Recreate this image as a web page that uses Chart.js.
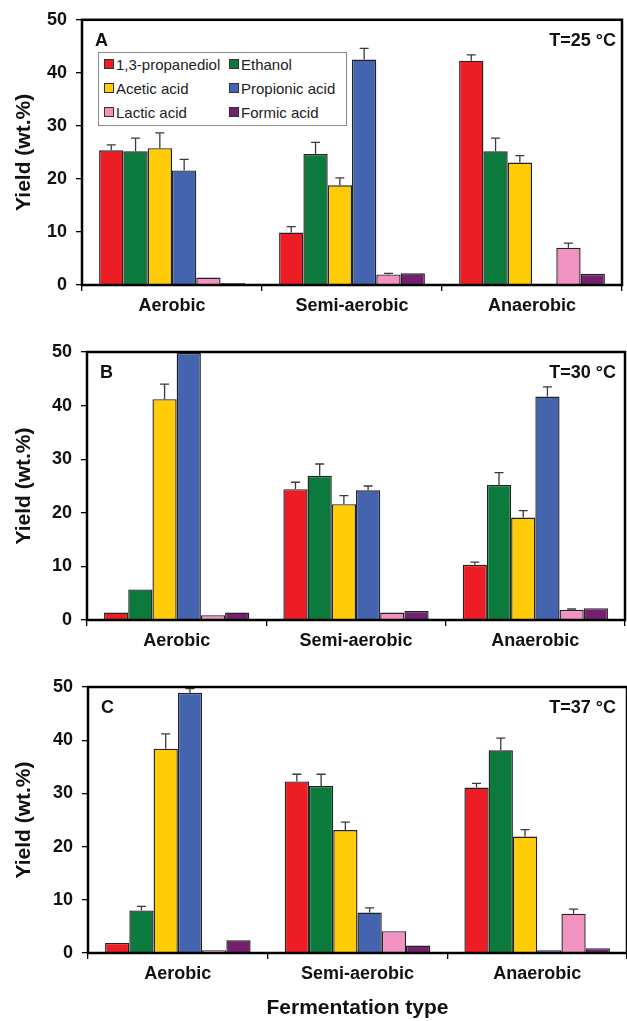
<!DOCTYPE html>
<html>
<head>
<meta charset="utf-8">
<script src="https://cdn.jsdelivr.net/npm/chart.js@4.4.1/dist/chart.umd.min.js"></script>
<style>
  html, body { margin: 0; padding: 0; background: #fff; }
  body { width: 627px; height: 1021px; position: relative; overflow: hidden; font-family: "Liberation Sans", Arial, sans-serif; }
  .panel { position: absolute; left: 0; }
  .legend { position: absolute; left: 98px; top: 52px; width: 247px; height: 72px; border: 1px solid #8a8a8a; background: #fff; }
  .li { position: absolute; font-size: 15px; color: #222; line-height: 16px; white-space: nowrap; }
  .li span.m { display: inline-block; width: 8px; height: 8px; border: 1px solid #333; margin-right: 2px; vertical-align: 1px; }
</style>
</head>
<body>
<canvas id="cA" class="panel" style="top:0px" width="627" height="330"></canvas>
<canvas id="cB" class="panel" style="top:330px" width="627" height="335"></canvas>
<canvas id="cC" class="panel" style="top:665px" width="627" height="356"></canvas>
<div class="legend" id="legend"></div>
<script>
// ---- data ----
const categories = ["Aerobic", "Semi-aerobic", "Anaerobic"];
const seriesNames = ["1,3-propanediol", "Ethanol", "Acetic acid", "Propionic acid", "Lactic acid", "Formic acid"];
const seriesColors = ["#ED1D25", "#0D7A3D", "#FFCC07", "#4564AF", "#F192C1", "#74206F"];
const yTicks = [0, 10, 20, 30, 40, 50];

// Panel A, T=25 °C (values per series across categories)
const A_propanediol = [25.4, 9.9, 42.3];
const A_ethanol     = [25.2, 24.7, 25.2];
const A_acetic      = [25.8, 18.8, 23.1];
const A_propionic   = [21.6, 42.5, 0.25];
const A_lactic      = [1.4, 2.0, 7.0];
const A_formic      = [0.4, 2.2, 2.1];
const A_err_propanediol = [1.0, 1.1, 1.1];
const A_err_ethanol     = [2.5, 2.2, 2.5];
const A_err_acetic      = [2.9, 1.4, 1.3];
const A_err_propionic   = [2.1, 2.1, 0];
const A_err_lactic      = [0, 0.2, 0.9];
const A_err_formic      = [0, 0, 0];

// Panel B, T=30 °C
const B_propanediol = [1.4, 24.4, 10.3];
const B_ethanol     = [5.7, 26.9, 25.2];
const B_acetic      = [41.2, 21.6, 19.1];
const B_propionic   = [49.8, 24.2, 41.7];
const B_lactic      = [0.9, 1.4, 1.9];
const B_formic      = [1.4, 1.7, 2.2];
const B_err_propanediol = [0, 1.3, 0.5];
const B_err_ethanol     = [0, 2.2, 2.3];
const B_err_acetic      = [2.8, 1.6, 1.3];
const B_err_propionic   = [0, 0.8, 1.8];
const B_err_lactic      = [0, 0, 0.15];
const B_err_formic      = [0, 0, 0];

// Panel C, T=37 °C
const C_propanediol = [1.9, 32.25, 31.1];
const C_ethanol     = [8.0, 31.4, 38.1];
const C_acetic      = [38.4, 23.1, 21.9];
const C_propionic   = [48.9, 7.6, 0.5];
const C_lactic      = [0.5, 4.1, 7.4];
const C_formic      = [2.4, 1.4, 0.9];
const C_err_propanediol = [0, 1.35, 0.8];
const C_err_ethanol     = [0.75, 2.2, 2.3];
const C_err_acetic      = [2.8, 1.5, 1.3];
const C_err_propionic   = [0.8, 0.9, 0];
const C_err_lactic      = [0, 0, 0.85];
const C_err_formic      = [0, 0, 0];

const panelLetters = ["A", "B", "C"];
const panelTemps = ["T=25 °C", "T=30 °C", "T=37 °C"];
const yTitle = "Yield (wt.%)";
const xTitle = "Fermentation type";

// ---- legend (HTML) ----
(function () {
  const lg = document.getElementById('legend');
  seriesNames.forEach((n, i) => {
    const col = i % 2, row = Math.floor(i / 2);
    const d = document.createElement('div');
    d.className = 'li';
    d.style.left = (col === 0 ? 5 : 130) + 'px';
    d.style.top = (4 + row * 24) + 'px';
    d.innerHTML = '<span class="m" style="background:' + seriesColors[i] + '"></span>' + n;
    lg.appendChild(d);
  });
})();

// ---- plugins ----
const decoPlugin = {
  id: 'deco',
  afterDatasetsDraw(chart, args, opts) {
    const ctx = chart.ctx;
    const ys = chart.scales.y;
    ctx.save();
    // error bars
    chart.data.datasets.forEach((ds, di) => {
      const meta = chart.getDatasetMeta(di);
      meta.data.forEach((bar, i) => {
        const e = ds.errors ? ds.errors[i] : 0;
        if (!e) return;
        const x = bar.x;
        const y0 = ys.getPixelForValue(ds.data[i]);
        const y1 = ys.getPixelForValue(Math.min(ds.data[i] + e, 50.3));
        ctx.strokeStyle = '#3a3a3a';
        ctx.lineWidth = 1.3;
        ctx.beginPath();
        ctx.moveTo(x, y0); ctx.lineTo(x, y1);
        ctx.moveTo(x - 4.5, y1); ctx.lineTo(x + 4.5, y1);
        ctx.stroke();
      });
    });
    // frame
    const a = chart.chartArea;
    ctx.strokeStyle = '#000';
    ctx.lineWidth = 2.5;
    ctx.strokeRect(a.left, a.top, a.right - a.left, a.bottom - a.top);
    // panel texts
    ctx.fillStyle = '#111';
    ctx.textBaseline = 'alphabetic';
    ctx.font = 'bold 18px "Liberation Sans", Arial, sans-serif';
    ctx.textAlign = 'left';
    ctx.fillText(opts.letter, a.left + 13, a.top + 26);
    ctx.font = 'bold 18px "Liberation Sans", Arial, sans-serif';
    ctx.textAlign = 'right';
    ctx.fillText(opts.temp, Math.min(a.right, 622) - 6, a.top + 26);
    ctx.restore();
  }
};

function makeChart(id, seriesData, seriesErr, idx, geom) {
  const datasets = seriesNames.map((n, i) => ({
    label: n,
    data: seriesData[i],
    errors: seriesErr[i],
    backgroundColor: seriesColors[i],
    borderColor: '#222',
    borderWidth: 1.4,
    borderSkipped: 'start',
    categoryPercentage: 0.81,
    barPercentage: 1.0
  }));
  return new Chart(document.getElementById(id), {
    type: 'bar',
    data: { labels: categories, datasets },
    plugins: [decoPlugin],
    options: {
      responsive: false,
      animation: false,
      devicePixelRatio: 1,
      layout: { padding: { top: geom.top, right: geom.right, bottom: 0, left: 0 } },
      plugins: {
        legend: { display: false },
        tooltip: { enabled: false },
        deco: { letter: panelLetters[idx], temp: panelTemps[idx] }
      },
      scales: {
        x: {
          afterFit: s => { s.height = geom.xh; },
          border: { display: false },
          grid: { offset: true, drawOnChartArea: false, drawTicks: true, tickLength: 6, color: '#000', lineWidth: 1.3 },
          ticks: { color: '#111', padding: 4, font: { family: '"Liberation Sans", Arial, sans-serif', size: 18, weight: 'bold' } },
          title: geom.xTitle ? { display: true, text: xTitle, color: '#111', padding: { top: 0, bottom: 0 },
                   font: { family: '"Liberation Sans", Arial, sans-serif', size: 21, weight: 'bold' } } : { display: false }
        },
        y: {
          min: 0, max: 50,
          afterFit: s => { s.width = geom.left; },
          afterBuildTicks: s => { s.ticks = yTicks.map(v => ({ value: v })); },
          border: { display: false },
          grid: { drawOnChartArea: false, drawTicks: true, tickLength: 6, color: '#000', lineWidth: 1.3 },
          ticks: { color: '#111', padding: 9, font: { family: '"Liberation Sans", Arial, sans-serif', size: 18, weight: 'bold' } },
          title: { display: true, text: yTitle, color: '#111', padding: { top: 12, bottom: 0 },
                   font: { family: '"Liberation Sans", Arial, sans-serif', size: 21, weight: 'bold' } }
        }
      }
    }
  });
}

makeChart('cA',
  [A_propanediol, A_ethanol, A_acetic, A_propionic, A_lactic, A_formic],
  [A_err_propanediol, A_err_ethanol, A_err_acetic, A_err_propionic, A_err_lactic, A_err_formic],
  0, { top: 19, right: 5, left: 82, xh: 45 });
makeChart('cB',
  [B_propanediol, B_ethanol, B_acetic, B_propionic, B_lactic, B_formic],
  [B_err_propanediol, B_err_ethanol, B_err_acetic, B_err_propionic, B_err_lactic, B_err_formic],
  1, { top: 22, right: 2, left: 87, xh: 45 });
makeChart('cC',
  [C_propanediol, C_ethanol, C_acetic, C_propionic, C_lactic, C_formic],
  [C_err_propanediol, C_err_ethanol, C_err_acetic, C_err_propionic, C_err_lactic, C_err_formic],
  2, { top: 22, right: 0, left: 88, xh: 68, xTitle: true });
</script>
</body>
</html>
